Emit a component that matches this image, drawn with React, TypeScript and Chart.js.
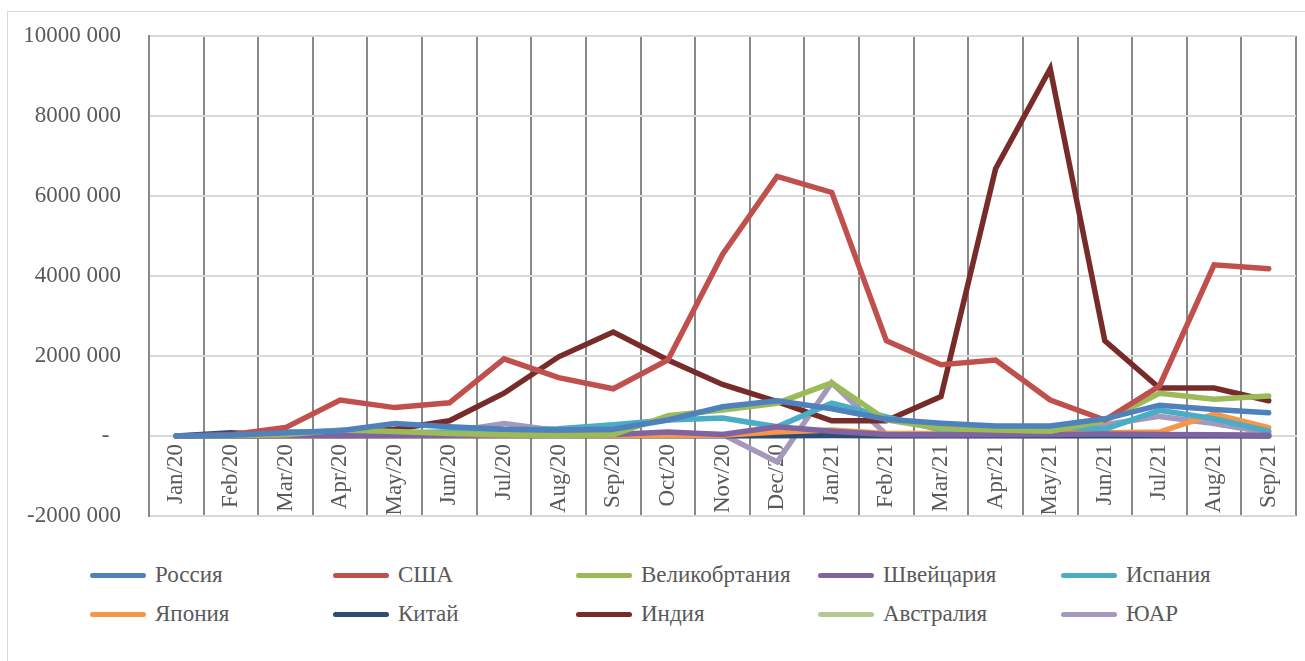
import React, { useEffect, useRef } from "react";
import { Chart, registerables } from "chart.js";
Chart.register(...registerables);

const categories = [
  "Jan/20", "Feb/20", "Mar/20", "Apr/20", "May/20", "Jun/20", "Jul/20", "Aug/20", "Sep/20", "Oct/20", "Nov/20", "Dec/20",
  "Jan/21", "Feb/21", "Mar/21", "Apr/21", "May/21", "Jun/21", "Jul/21", "Aug/21", "Sep/21",
];

const russia = [0, 20000, 80000, 130000, 310000, 230000, 170000, 150000, 170000, 400000, 730000, 880000, 680000, 420000, 320000, 250000, 250000, 430000, 770000, 660000, 580000];
const usa = [0, 30000, 210000, 900000, 710000, 830000, 1930000, 1460000, 1180000, 1900000, 4540000, 6490000, 6090000, 2380000, 1780000, 1900000, 900000, 400000, 1250000, 4280000, 4180000];
const uk = [0, 5000, 30000, 150000, 110000, 60000, 30000, 20000, 30000, 510000, 650000, 820000, 1330000, 400000, 190000, 150000, 120000, 380000, 1070000, 920000, 1000000];
const switzerland = [0, 0, 5000, 10000, 20000, 20000, 30000, 30000, 40000, 100000, 40000, 230000, 120000, 40000, 30000, 30000, 40000, 50000, 40000, 30000, 20000];
const spain = [0, 20000, 100000, 120000, 80000, 100000, 150000, 180000, 280000, 400000, 450000, 230000, 820000, 480000, 150000, 230000, 230000, 170000, 640000, 430000, 120000];
const japan = [0, 0, 5000, 10000, 10000, 10000, 10000, 10000, 10000, 10000, 20000, 100000, 150000, 60000, 60000, 100000, 170000, 80000, 100000, 550000, 210000];
const china = [0, 80000, 20000, 5000, 5000, 5000, 5000, 5000, 5000, 5000, 5000, 5000, 10000, 5000, 5000, 5000, 5000, 5000, 5000, 5000, 0];
const india = [0, 5000, 20000, 80000, 170000, 380000, 1070000, 1980000, 2600000, 1900000, 1290000, 860000, 380000, 380000, 985000, 6680000, 9180000, 2380000, 1200000, 1200000, 880000];
const australia = [0, 0, 5000, 10000, 10000, 20000, 30000, 20000, 10000, 10000, 10000, 20000, 20000, 10000, 10000, 10000, 10000, 20000, 10000, 10000, 30000];
const southAfrica = [0, 0, 5000, 10000, 30000, 100000, 310000, 130000, 40000, 40000, 40000, -650000, 1330000, 40000, 40000, 30000, 80000, 280000, 490000, 310000, 80000];

const seriesNames = ["Россия", "США", "Великобртания", "Швейцария", "Испания", "Япония", "Китай", "Индия", "Австралия", "ЮАР"];
const seriesValues = [russia, usa, uk, switzerland, spain, japan, china, india, australia, southAfrica];
const seriesColors = ["#4F81BD", "#C0504D", "#9BBB59", "#8064A2", "#4BACC6", "#F79646", "#2C4D75", "#772C2A", "#B5CA92", "#A598BD"];

const yMin = -2000000;
const yMax = 10000000;
const yStep = 2000000;

const FONT = "'Liberation Serif', 'Times New Roman', serif";
const TEXT = "#595959";
const FSIZE = 23;

export default function App() {
  const ref = useRef<HTMLCanvasElement>(null);
  useEffect(() => {
    const chart = new Chart(ref.current!, {
      type: "line",
      data: {
        labels: categories,
        datasets: seriesNames.map((name, i) => ({
          label: name,
          data: seriesValues[i],
          borderColor: seriesColors[i],
          backgroundColor: seriesColors[i],
          borderWidth: 5.5,
          tension: 0,
          pointRadius: 0,
          borderCapStyle: "round",
          borderJoinStyle: "miter",
          fill: false,
        })),
      },
      options: {
        animation: false,
        responsive: false,
        maintainAspectRatio: false,
        layout: { padding: { left: 0, top: 24, right: 9, bottom: 36 } },
        plugins: { legend: { display: false }, tooltip: { enabled: false } },
        scales: {
          x: {
            position: { y: 0 } as any,
            offset: true,
            grid: { offset: true, color: "#888888", lineWidth: 2, drawTicks: false },
            border: { display: true, color: "#d9d9d9", width: 2 },
            ticks: {
              minRotation: 90,
              maxRotation: 90,
              autoSkip: false,
              padding: 8,
              color: TEXT,
              font: { family: FONT, size: FSIZE },
            },
          },
          y: {
            min: yMin,
            max: yMax,
            afterFit: (s: any) => {
              s.width = 141;
              s.paddingTop = 0;
              s.paddingBottom = 0;
            },
            ticks: {
              stepSize: yStep,
              padding: 28,
              color: TEXT,
              font: { family: FONT, size: FSIZE },
              callback: (v: any) => (Number(v) === 0 ? "-  " : `${Number(v) / 1000} 000`),
            },
            grid: { color: "#d9d9d9", lineWidth: 2, drawTicks: false },
            border: { display: true, color: "#888888", width: 2 },
          },
        },
      },
    });
    return () => chart.destroy();
  }, []);

  const colX = [82, 325, 568, 810, 1053];
  const rowY = [563, 602];

  return (
    <div
      style={{
        position: "absolute",
        left: 7,
        top: 11,
        width: 1310,
        height: 660,
        border: "1px solid #d9d9d9",
        background: "#fff",
      }}
    >
      <canvas ref={ref} width={1297} height={540} style={{ position: "absolute", left: 0, top: 0, width: 1297, height: 540 }} />
      {seriesNames.map((name, i) => {
        const col = i % 5;
        const row = Math.floor(i / 5);
        return (
          <div
            key={name}
            style={{
              position: "absolute",
              left: colX[col],
              top: rowY[row] - 15,
              height: 30,
              display: "flex",
              alignItems: "center",
              fontFamily: FONT,
              fontSize: FSIZE,
              color: TEXT,
              whiteSpace: "nowrap",
            }}
          >
            <span
              style={{
                display: "inline-block",
                width: 56,
                height: 5,
                borderRadius: 3,
                background: seriesColors[i],
                marginRight: 9,
              }}
            />
            <span>{name}</span>
          </div>
        );
      })}
    </div>
  );
}
